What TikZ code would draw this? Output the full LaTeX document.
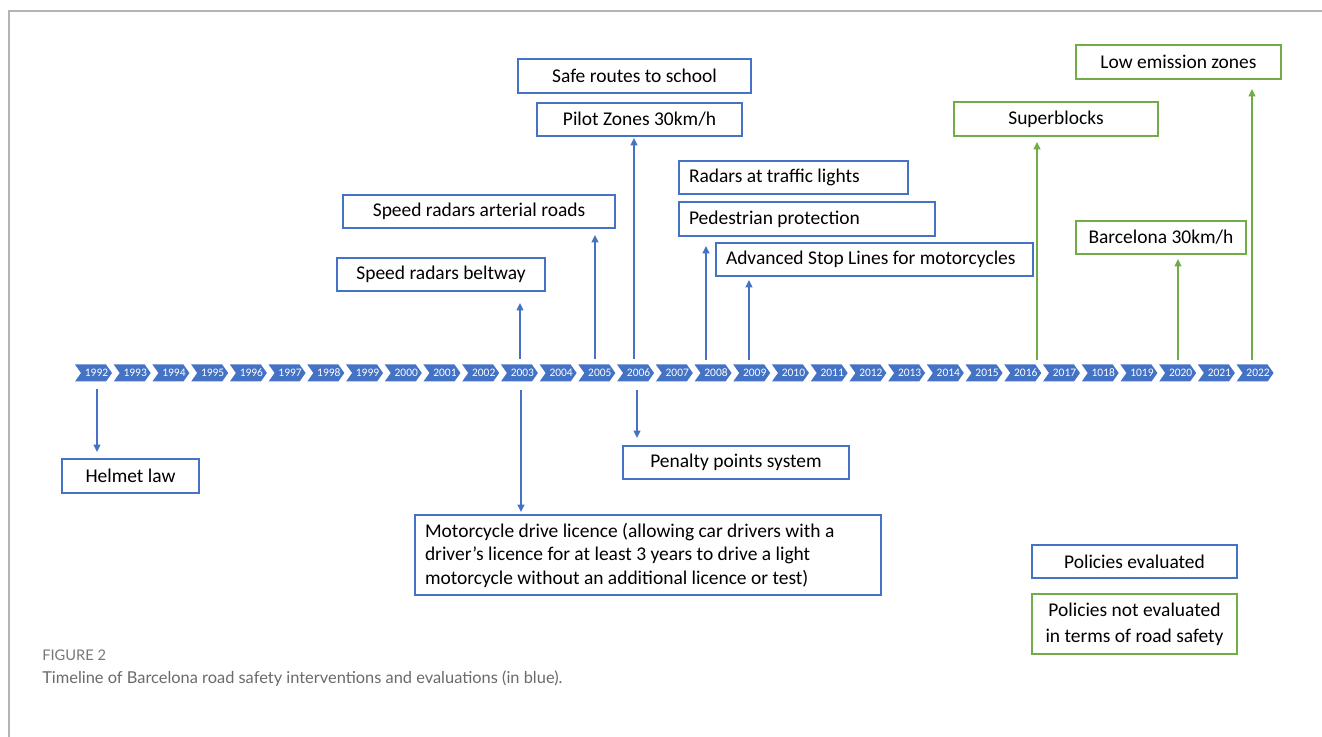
\documentclass[tikz,border=0pt]{standalone}
\usepackage{fontspec}
\setmainfont{Carlito}
\newfontfamily\capfont{Lato}
\usetikzlibrary{arrows.meta}
\definecolor{oblue}{HTML}{4472C4}
\definecolor{ogreen}{HTML}{70AD47}
\definecolor{framegray}{HTML}{B4B4B4}
\definecolor{capgray}{HTML}{6A6A6A}
\definecolor{figgray}{HTML}{777777}
\begin{document}
\begin{tikzpicture}[x=0.75pt,y=-0.75pt,
  sz/.style 2 args={minimum width=#1*0.75pt, minimum height=#2*0.75pt},
  bx/.style={draw=oblue, line width=0.8pt, inner sep=0pt, text=black, align=center,
    font=\fontsize{14.6}{17.3}\selectfont},
  gbx/.style={bx, draw=ogreen},
  lbx/.style={bx, align=flush left, inner xsep=7.5pt, text width=#1*0.75pt-15pt},
  arr/.style={draw=oblue, line width=1.1pt, -{Triangle[length=5.5pt,width=5pt]}},
  garr/.style={arr, draw=ogreen, fill=ogreen},
  chev/.style={fill=oblue},
  yr/.style={text=white, inner sep=0pt, font=\fontsize{8.6}{10}\selectfont}
]
\useasboundingbox (0,0) rectangle (1322,737);
% frame
\draw[framegray, line width=1.2pt] (9,737) -- (9,11) -- (1322,11);

% timeline chevrons
\foreach \lab [count=\i from 0] in {1992,1993,1994,1995,1996,1997,1998,1999,2000,2001,2002,2003,2004,2005,2006,2007,2008,2009,2010,2011,2012,2013,2014,2015,2016,2017,1018,1019,2020,2021,2022}{
  \pgfmathsetmacro{\xl}{75+38.72*\i}
  \fill[chev] (\xl,364.5) -- (\xl+31,364.5) -- (\xl+37,373) -- (\xl+31,381.5) -- (\xl,381.5) -- (\xl+6,373) -- cycle;
  \node[yr] (y\lab) at (\xl+21.5,373) {\lab};
}

% boxes (blue)
\node[bx, sz={137}{34}] (helmet) at (130.5,476) {Helmet law};
\node[bx, sz={208}{33}] (beltway) at (441,274.5) {Speed radars beltway};
\node[bx, sz={272}{33}] (arterial) at (479,211.5) {Speed radars arterial roads};
\node[bx, sz={205}{33}] (pilot) at (639.5,119.5) {Pilot Zones 30km/h};
\node[bx, sz={233}{34}] (safe) at (634.5,76) {Safe routes to school};
\node[lbx=229, sz={229}{33}] (radars) at (793.5,177.5) {\mbox{Radars at traffic lights}};
\node[lbx=256, sz={256}{34}] (pedestrian) at (807,219) {\mbox{Pedestrian protection}};
\node[lbx=317, sz={317}{33}] (advanced) at (874.5,259.5) {\mbox{Advanced Stop Lines for motorcycles}};
\node[bx, sz={226}{33}] (penalty) at (736,462.5) {Penalty points system};
\node[lbx=466, sz={466}{80}, font=\fontsize{14.6}{17.6}\selectfont] (motor) at (648,555) {\mbox{Motorcycle drive licence (allowing car drivers with a}\\\mbox{driver’s licence for at least 3 years to drive a light}\\\mbox{motorcycle without an additional licence or test)}};

% boxes (green)
\node[gbx, sz={204}{34}] (superblocks) at (1056,119) {Superblocks};
\node[gbx, sz={170}{33}] (bcn) at (1161,237.5) {Barcelona 30km/h};
\node[gbx, sz={205}{34}] (lez) at (1178.5,62) {Low emission zones};

% legend
\node[bx, sz={205}{33}] (leg1) at (1134.5,561.5) {Policies evaluated};
\node[gbx, sz={205}{60}, font=\fontsize{14.6}{19.5}\selectfont] (leg2) at (1134.5,624) {Policies not evaluated\\in terms of road safety};

% arrow end points
\coordinate (s1992) at (97,389);   \coordinate (e1992) at (97,452);
\coordinate (s2003u) at (520,359); \coordinate (e2003u) at (520,303);
\coordinate (s2003d) at (521,390); \coordinate (e2003d) at (521,512);
\coordinate (s2005) at (595,359);  \coordinate (e2005) at (595,235);
\coordinate (s2006u) at (634,359); \coordinate (e2006u) at (634,138);
\coordinate (s2006d) at (637,390); \coordinate (e2006d) at (637,438);
\coordinate (s2008) at (706,360);  \coordinate (e2008) at (706,246);
\coordinate (s2009) at (749,360);  \coordinate (e2009) at (749,280);
\coordinate (s2016) at (1037,360); \coordinate (e2016) at (1037,142);
\coordinate (s2020) at (1178,360); \coordinate (e2020) at (1178,259);
\coordinate (s2022) at (1252,360); \coordinate (e2022) at (1252,89);

\draw[arr] (s1992) -- (e1992);
\draw[arr] (s2003u) -- (e2003u);
\draw[arr] (s2003d) -- (e2003d);
\draw[arr] (s2005) -- (e2005);
\draw[arr] (s2006u) -- (e2006u);
\draw[arr] (s2006d) -- (e2006d);
\draw[arr] (s2008) -- (e2008);
\draw[arr] (s2009) -- (e2009);
\draw[garr] (s2016) -- (e2016);
\draw[garr] (s2020) -- (e2020);
\draw[garr] (s2022) -- (e2022);

% caption
\node[anchor=base west, inner sep=0pt, text=figgray, font=\capfont\fontsize{11}{13}\selectfont] (fig) at (42,661) {FIGURE 2};
\node[anchor=base west, inner sep=0pt, text=capgray, font=\capfont\fontsize{12.3}{15}\selectfont] (cap) at (42,684) {Timeline of Barcelona road safety interventions and evaluations (in blue).};
\end{tikzpicture}
\end{document}
